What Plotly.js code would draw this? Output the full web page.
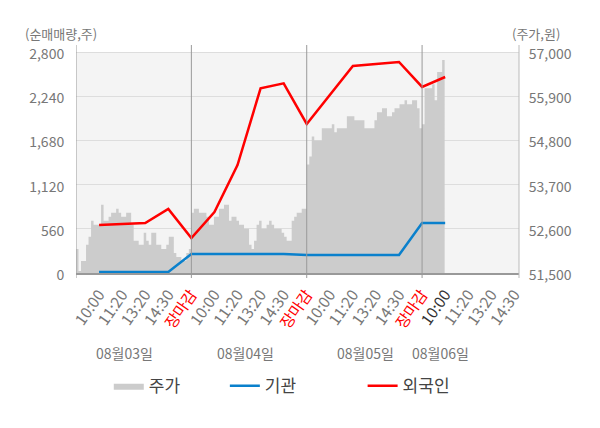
<!DOCTYPE html>
<html>
<head>
<meta charset="utf-8">
<script src="https://cdn.plot.ly/plotly-3.0.1.min.js"></script>
<style>
html,body{margin:0;padding:0;background:#fff;}
#chart{width:600px;height:428px;}
</style>
</head>
<body>
<div id="chart"></div>
<script>
// ---- data ----
const timeLabels = ['10:00','11:20','13:20','14:30','장마감',
                    '10:00','11:20','13:20','14:30','장마감',
                    '10:00','11:20','13:20','14:30','장마감',
                    '10:00','11:20','13:20','14:30'];
const dateLabels = ['08월03일','08월04일','08월05일','08월06일'];
const datePos = [2.12, 7.33, 12.53, 15.78];

// 주가 (원), intraday samples per day
const price0803 = [52100,51550,51800,51800,52200,52400,52800,52700,52700,52700,
                   53200,52800,52800,52900,53000,53000,53100,53000,52900,52900,
                   53000,53000,52700,52300,52300,52200,52200,52500,52300,52200,
                   52500,52500,52200,52200,52100,52100,52200,52400,52400,52000,
                   51900,51900,51800,51800,52000,52100];
const price0804 = [53000,53100,53100,53000,53000,53000,52900,52700,52700,52900,
                   52900,53100,53100,53200,53200,52800,52900,52900,52800,52700,
                   52700,52600,52600,52200,52100,52300,52700,52800,52600,52600,
                   52700,52800,52700,52600,52600,52600,52500,52400,52300,52300,
                   52800,52900,53000,53000,53100,53100];
const price0805 = [54200,54400,54900,54800,54800,54800,55100,55100,55100,55100,
                   55200,55000,55100,55100,55100,55100,55400,55400,55400,55300,
                   55300,55300,55300,55100,55100,55100,55100,55300,55500,55500,
                   55600,55600,55400,55400,55500,55600,55600,55700,55700,55800,
                   55700,55700,55800,55800,55600,55100];
const price0806 = [55200,56100,56100,56100,56200,55800,56500,56500,56800,56300];

// 순매매량 (주) at label slots 1..16
const instNet    = [13,13,13,13,241,241,241,241,241,228,228,228,228,228,634,634];
const foreignNet = [608,621,634,811,443,773,1368,2340,2403,1888,2255,2623,2648,2673,2357,2483];

const leftTicks  = [0,560,1120,1680,2240,2800];
const rightTicks = [51500,52600,53700,54800,55900,57000];

// ---- build ----
const SLOTS = 5, PER_DAY = 46;
const px = [], py = [];
[price0803, price0804, price0805, price0806].forEach((arr, d) => {
  arr.forEach((v, i) => { px.push(d*SLOTS + i*SLOTS/PER_DAY); py.push(v); });
});
const slotX = foreignNet.map((_, i) => i + 1);

const tickText = timeLabels.map((t, i) => {
  if (t === '장마감') return '<span style="color:#ff0000">' + t + '</span>';
  if (i === 15) return '<span style="color:#333333">' + t + '</span>';
  return t;
});

const FONT = '"Noto Sans CJK KR", "Noto Sans", sans-serif';
const XMAX = 19.2;

const traces = [
  {x: px, y: py, type: 'scatter', mode: 'lines', name: '주가',
   line: {width: 0, shape: 'hv', color: '#cccccc'}, fill: 'tozeroy', fillcolor: '#cccccc',
   yaxis: 'y', legend: 'legend', hoverinfo: 'skip'},
  {x: slotX, y: instNet, type: 'scatter', mode: 'lines', name: '기관',
   line: {width: 2.5, color: '#0a80cc'}, yaxis: 'y2', legend: 'legend2'},
  {x: slotX, y: foreignNet, type: 'scatter', mode: 'lines', name: '외국인',
   line: {width: 2.5, color: '#ff0000'}, yaxis: 'y2', legend: 'legend3'}
];

const vlines = [0, 5, 10, 15].map(v => ({
  type: 'line', xref: 'x', yref: 'paper', x0: v, x1: v, y0: -0.022, y1: 1,
  line: {color: '#999999', width: 1}, layer: 'above'
}));

const legendBase = {orientation: 'h', yanchor: 'middle', y: -0.496, xanchor: 'left',
  font: {family: FONT, size: 17, color: '#444444'}, bgcolor: 'rgba(0,0,0,0)'};

const layout = {
  width: 600, height: 428,
  margin: {l: 76, r: 81, t: 45, b: 155, pad: 0},
  paper_bgcolor: '#ffffff', plot_bgcolor: '#ffffff',
  font: {family: FONT, size: 14, color: '#777777'},
  showlegend: true,
  legend:  Object.assign({}, legendBase, {x: 0.074}),
  legend2: Object.assign({}, legendBase, {x: 0.336}),
  legend3: Object.assign({}, legendBase, {x: 0.647}),
  xaxis: {
    range: [0, XMAX], tickmode: 'array', tickvals: timeLabels.map((_, i) => i + 1),
    ticktext: tickText, tickangle: -55, showgrid: false, zeroline: false,
    showline: true, linecolor: '#999999', linewidth: 1.5,
    ticks: 'outside', ticklen: 5, tickcolor: 'rgba(0,0,0,0)',
    tickfont: {family: FONT, size: 15.5, color: '#777777'}, fixedrange: true
  },
  yaxis: {
    side: 'right', range: [51500, 51500 + 5500*228/221], tickmode: 'array', tickvals: rightTicks,
    tickformat: ',', showgrid: true, gridcolor: '#dddddd', gridwidth: 1, zeroline: false,
    showline: false, ticks: 'outside', ticklen: 6, tickcolor: 'rgba(0,0,0,0)',
    ticklabelshift: 2,
    tickfont: {family: FONT, size: 14, color: '#777777'}, fixedrange: true
  },
  yaxis2: {
    side: 'left', overlaying: 'y', range: [0, 2800*228/221], tickmode: 'array', tickvals: leftTicks,
    tickformat: ',', showgrid: false, zeroline: false, showline: false,
    ticks: 'outside', ticklen: 8, tickcolor: 'rgba(0,0,0,0)',
    ticklabelshift: 2,
    tickfont: {family: FONT, size: 14, color: '#777777'}, fixedrange: true
  },
  shapes: [
    {type: 'rect', xref: 'paper', yref: 'y2', x0: 0, x1: 1, y0: 0, y1: 2800,
     fillcolor: '#f4f4f4', line: {width: 0}, layer: 'below'},
    {type: 'line', xref: 'paper', yref: 'paper', x0: 1, x1: 1, y0: -0.022, y1: 1,
     line: {color: '#bbbbbb', width: 1}, layer: 'above'}
  ].concat(vlines),
  annotations: [
    {text: '(순매매량,주)', xref: 'paper', yref: 'paper', x: -0.034, y: 1.05,
     xanchor: 'center', yanchor: 'middle', showarrow: false, font: {family: FONT, size: 13, color: '#777777'}},
    {text: '(주가,원)', xref: 'paper', yref: 'paper', x: 1.038, y: 1.05,
     xanchor: 'center', yanchor: 'middle', showarrow: false, font: {family: FONT, size: 13, color: '#777777'}}
  ].concat(dateLabels.map((t, i) => ({
    text: t, xref: 'x', yref: 'paper', x: datePos[i], y: -0.351,
    xanchor: 'center', yanchor: 'middle', showarrow: false,
    font: {family: FONT, size: 14, color: '#777777'}
  })))
};

Plotly.newPlot('chart', traces, layout, {displayModeBar: false, staticPlot: true});
</script>
</body>
</html>
